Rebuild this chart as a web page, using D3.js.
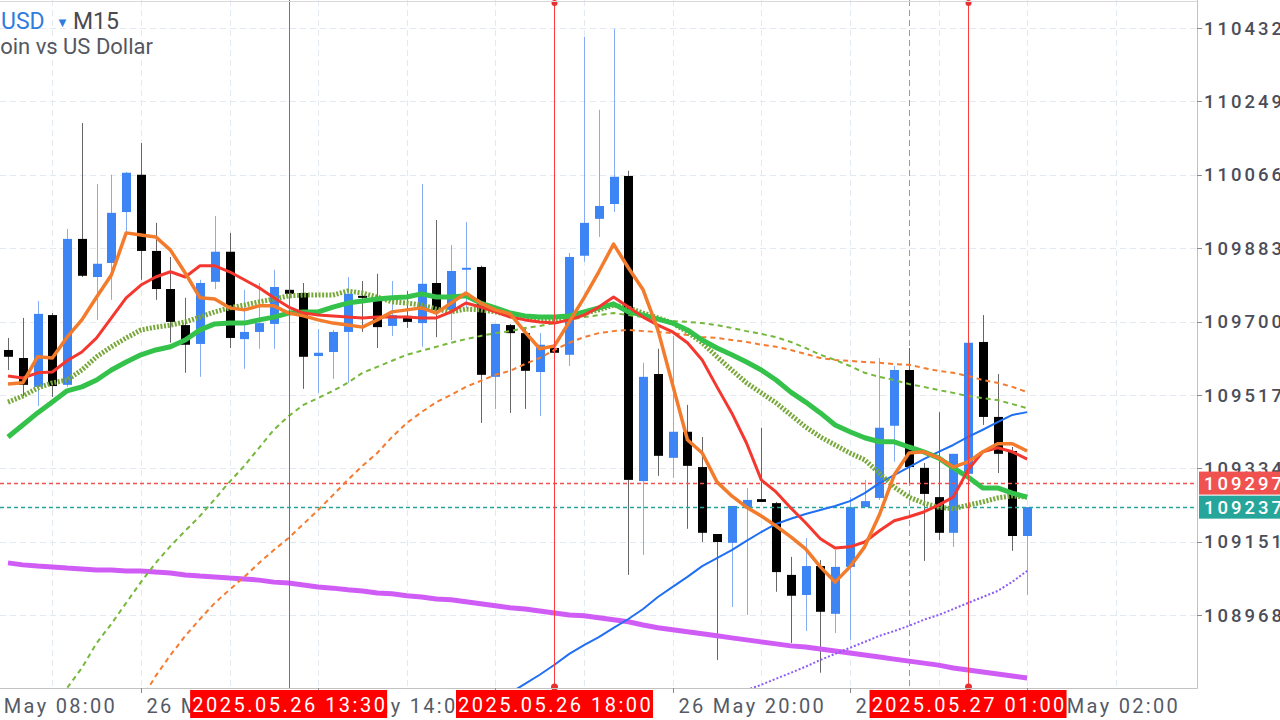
<!DOCTYPE html>
<html><head><meta charset="utf-8">
<script src="https://cdn.jsdelivr.net/npm/d3@7"></script>
<style>body{margin:0;background:#fff;overflow:hidden}svg{display:block;font-family:Roboto,"Liberation Sans",sans-serif}</style>
</head><body><svg id="c" width="1280" height="720"></svg>
<script>
// ---------- DATA ----------
const symbol = "BTCUSD", timeframe = "M15", description = "Bitcoin vs US Dollar";
const firstBar = "2025.05.26 08:45";
const barMinutes = 15;
const openP = [109629,109609,109537,109716,109542,109906,109811,109846,109973,110066,
109876,109781,109691,109644,109799,109874,109656,109674,109694,109779,
109771,109614,109624,109674,109764,109759,109689,109714,109696,109796,
109729,109831,109836,109562,109691,109671,109574,109634,109617,109864,
109956,109993,110063,109302,109569,109360,109425,109337,109170,109148,
109237,109257,109247,109068,109018,109090,108971,109088,109237,109260,
109440,109579,109335,109262,109173,109320,109649,109462,109377,109165];
const highP = [109659,109709,109751,109721,109931,110195,110043,110066,110073,110145,
109946,109861,109759,109804,109963,109921,109779,109796,109829,109809,
109796,109681,109679,109811,109801,109819,109801,109776,110043,109953,
109891,109948,109839,109694,109694,109681,109671,109711,109871,110410,
110228,110430,110076,109597,109632,109664,109492,109412,109170,109240,
109285,109435,109250,109113,109160,109105,109130,109262,109305,109609,
109589,109634,109347,109474,109370,109866,109716,109569,109387,109237];
const lowP = [109579,109514,109489,109512,109537,109811,109704,109754,109921,109804,
109754,109647,109572,109562,109781,109634,109582,109632,109632,109754,
109532,109522,109557,109547,109674,109634,109664,109684,109637,109661,
109654,109734,109447,109482,109472,109482,109464,109509,109589,109849,
109911,109973,109068,109118,109315,109310,109183,109150,108856,108988,
108968,109250,109026,108898,108928,108824,108923,108906,109237,109255,
109350,109297,109103,109155,109138,109282,109442,109322,109128,109018];
const closeP = [109612,109542,109719,109539,109906,109814,109844,109971,110071,109876,
109781,109699,109642,109796,109874,109659,109674,109696,109786,109769,
109612,109622,109674,109769,109759,109686,109716,109699,109794,109729,
109826,109834,109567,109694,109671,109577,109642,109622,109861,109946,
109988,110061,109305,109562,109365,109425,109340,109173,109150,109240,
109255,109250,109075,109016,109090,108976,109088,109237,109252,109435,
109579,109337,109270,109173,109370,109647,109462,109370,109165,109237];

const maOrange = [109544,109547,109612,109609,109661,109704,109761,109816,109921,109916,
109911,109878,109821,109759,109756,109734,109729,109739,109739,109721,
109714,109704,109696,109691,109686,109704,109724,109729,109734,109721,
109746,109771,109746,109729,109719,109674,109632,109639,109699,109759,
109824,109893,109834,109779,109679,109542,109405,109372,109300,109265,
109237,109215,109190,109163,109133,109088,109050,109088,109138,109218,
109317,109372,109375,109360,109337,109350,109375,109395,109395,109377];
const maRed = [109564,109559,109572,109574,109602,109624,109659,109709,109759,109791,
109811,109824,109811,109839,109839,109824,109804,109784,109759,109736,
109721,109716,109714,109711,109709,109711,109711,109711,109709,109709,
109724,109746,109736,109724,109711,109704,109699,109696,109704,109716,
109736,109761,109736,109711,109691,109674,109647,109604,109537,109472,
109397,109305,109275,109235,109198,109158,109135,109138,109150,109178,
109203,109213,109225,109242,109262,109330,109375,109385,109375,109357];
const maGreen = [109412,109442,109472,109499,109527,109537,109554,109579,109599,109617,
109629,109637,109654,109679,109694,109696,109696,109704,109711,109721,
109724,109724,109736,109746,109751,109756,109759,109761,109769,109761,
109761,109764,109746,109734,109721,109714,109711,109711,109714,109724,
109734,109744,109724,109716,109706,109696,109679,109654,109634,109617,
109599,109579,109554,109524,109499,109472,109442,109425,109410,109400,
109400,109387,109375,109360,109335,109312,109285,109285,109272,109262];
const maGreenDot = [109499,109514,109534,109547,109554,109579,109612,109637,109659,109679,
109686,109691,109699,109711,109724,109734,109741,109749,109756,109764,
109766,109766,109766,109776,109771,109761,109749,109746,109741,109731,
109724,109731,109729,109724,109716,109709,109704,109704,109709,109721,
109729,109741,109734,109721,109709,109696,109674,109647,109612,109579,
109547,109522,109497,109467,109437,109412,109392,109372,109355,109322,
109287,109262,109247,109237,109233,109242,109250,109260,109265,109262];
const maGreenDash = [null,null,null,108731,108786,108836,108898,108946,108998,109050,
109098,109140,109178,109215,109257,109300,109340,109385,109430,109464,
109492,109509,109527,109547,109572,109587,109602,109617,109627,109637,
109647,109656,109664,109671,109676,109684,109689,109696,109704,109711,
109716,109721,109716,109711,109706,109701,109699,109696,109691,109684,
109676,109669,109661,109649,109634,109617,109604,109589,109572,109562,
109554,109544,109537,109529,109522,109514,109509,109504,109494,109484];
const maOrangeDash = [null,null,null,null,null,null,null,null,null,108756,
108816,108868,108916,108958,108998,109031,109063,109098,109130,109160,
109195,109230,109267,109305,109340,109372,109412,109447,109474,109499,
109517,109537,109552,109567,109577,109594,109609,109629,109647,109661,
109671,109676,109679,109676,109674,109671,109666,109661,109659,109654,
109649,109642,109637,109629,109619,109609,109604,109602,109599,109597,
109594,109592,109584,109577,109572,109564,109554,109547,109537,109524];
const trendBlue = [null,null,null,null,null,null,null,null,null,null,
null,null,null,null,null,null,null,null,null,null,
null,null,null,null,null,null,null,null,null,null,
null,null,null,null,108774,108796,108819,108844,108871,108893,
108913,108936,108958,108983,109013,109038,109063,109090,109110,109130,
109153,109175,109195,109208,109220,109230,109240,109252,109272,109297,
109317,109337,109357,109375,109392,109412,109430,109449,109467,109474];
const maMagenta = [109098,109093,109090,109088,109085,109083,109080,109080,109078,109078,
109075,109073,109068,109065,109063,109060,109058,109055,109050,109048,
109043,109038,109035,109031,109028,109023,109021,109016,109013,109008,
109006,109001,108996,108991,108986,108983,108978,108973,108968,108966,
108961,108956,108951,108943,108936,108931,108926,108921,108916,108911,
108906,108901,108896,108891,108888,108883,108878,108873,108868,108863,
108858,108853,108848,108843,108836,108831,108826,108821,108816,108811];
const maPurpleDot = [null,null,null,null,null,null,null,null,null,null,
null,null,null,null,null,null,null,null,null,null,
null,null,null,null,null,null,null,null,null,null,
null,null,null,null,null,null,null,null,null,null,
null,null,null,null,null,null,null,null,null,null,
108781,108794,108809,108824,108839,108856,108871,108886,108901,108916,
108928,108941,108956,108968,108983,108998,109013,109028,109051,109078];

const yTicks = [110432,110249,110066,109883,109700,109517,109334,109151,108968];
const xTickTimes = ["2025.05.26 08:00","2025.05.26 11:00","2025.05.26 14:00","2025.05.26 17:00","2025.05.26 20:00","2025.05.26 23:00","2025.05.27 02:00"];
const gridStart = "2025.05.26 08:00", gridStepMin = 90, gridCount = 14;
const daySeparator = "2025.05.27 00:00";
const eventTimes = ["2025.05.26 13:30","2025.05.26 18:00","2025.05.27 01:00"];
const eventMarked = [false,true,true];
const askPrice = 109297, bidPrice = 109237;

// ---------- SETUP ----------
const parse = d3.timeParse("%Y.%m.%d %H:%M");
const t0 = parse(firstBar);
const times = openP.map((_, i) => d3.timeMinute.offset(t0, barMinutes * i));
const plotR = 1197, plotB = 688;
const x = d3.scaleTime().domain([times[0], times[times.length - 1]]).range([8, 8 + 14.77 * (times.length - 1)]);
const y = d3.scaleLinear().domain(d3.extent(yTicks)).range([615, 28]);

const svg = d3.select("#c");
svg.append("defs").append("clipPath").attr("id", "clip")
  .append("rect").attr("x", 0).attr("y", 0).attr("width", plotR).attr("height", plotB);
const plot = svg.append("g").attr("clip-path", "url(#clip)");

// grid
const gridTimes = d3.range(gridCount).map(k => d3.timeMinute.offset(parse(gridStart), gridStepMin * k));
plot.append("g").selectAll("line").data(yTicks).join("line")
  .attr("x1", 0).attr("x2", plotR).attr("y1", d => Math.round(y(d)) + 0.5).attr("y2", d => Math.round(y(d)) + 0.5)
  .attr("stroke", "#e2e9f0").attr("stroke-dasharray", "6,4");
plot.append("g").selectAll("line").data(gridTimes).join("line")
  .attr("y1", 0).attr("y2", plotB).attr("x1", d => Math.round(x(d)) + 0.5).attr("x2", d => Math.round(x(d)) + 0.5)
  .attr("stroke", "#e2e9f0").attr("stroke-dasharray", "6,4");
plot.append("line").attr("x1", Math.round(x(parse(daySeparator))) + 0.5).attr("x2", Math.round(x(parse(daySeparator))) + 0.5)
  .attr("y1", 0).attr("y2", plotB).attr("stroke", "#9c9c9c").attr("stroke-dasharray", "6,4");

// candles
const bars = times.map((t, i) => ({t, o: openP[i], h: highP[i], l: lowP[i], c: closeP[i]}));
const cg = plot.append("g");
cg.selectAll("line").data(bars).join("line")
  .attr("x1", d => Math.round(x(d.t)) + 0.5).attr("x2", d => Math.round(x(d.t)) + 0.5)
  .attr("y1", d => y(d.h)).attr("y2", d => y(d.l))
  .attr("stroke", d => d.c >= d.o ? "#86acf5" : "#666").attr("stroke-width", 1);
cg.selectAll("rect").data(bars).join("rect")
  .attr("x", d => Math.round(x(d.t)) - 4).attr("width", 9)
  .attr("y", d => y(Math.max(d.o, d.c)))
  .attr("height", d => Math.max(2, Math.abs(y(d.o) - y(d.c))))
  .attr("fill", d => d.c >= d.o ? "#3d84f4" : "#000");

// bid / ask lines
[[askPrice, "#f0524f"], [bidPrice, "#26a69a"]].forEach(([p, col]) => {
  plot.append("line").attr("x1", 0).attr("x2", plotR).attr("y1", Math.round(y(p)) + 0.5).attr("y2", Math.round(y(p)) + 0.5)
    .attr("stroke", col).attr("stroke-width", 1.5).attr("stroke-dasharray", "4,3");
});

// indicator lines
const lineGen = d3.line().defined(d => d != null).x((d, i) => x(times[i])).y(d => y(d));
function drawLine(vals, col, w, dash) {
  const path = plot.append("path").datum(vals).attr("d", lineGen)
    .attr("fill", "none").attr("stroke", col).attr("stroke-width", w)
    .attr("stroke-linejoin", "round");
  if (dash) path.attr("stroke-dasharray", dash);
}
drawLine(maMagenta, "#d05cf6", 5);
drawLine(maPurpleDot, "#8b5cf6", 2, "2,2");
drawLine(trendBlue, "#1f6ff2", 2);
drawLine(maOrangeDash, "#f47b2f", 2, "5,4");
drawLine(maGreenDash, "#76b83b", 2, "5,4");
drawLine(maGreenDot, "#78a83a", 5, "2,1.6");
drawLine(maGreen, "#34c24b", 5);
drawLine(maRed, "#f5382f", 3);
drawLine(maOrange, "#f27b2c", 3.5);

// event vertical lines
eventTimes.forEach((s, k) => {
  const ex = Math.round(x(parse(s))) + 0.5;
  svg.append("line").attr("x1", ex).attr("x2", ex).attr("y1", 0).attr("y2", plotB)
    .attr("stroke", "#ff3b3b").attr("stroke-width", 1);
  if (eventMarked[k]) {
    svg.append("circle").attr("cx", ex).attr("cy", 3).attr("r", 3).attr("fill", "#e83030");
    svg.append("circle").attr("cx", ex).attr("cy", plotB - 1).attr("r", 3.5).attr("fill", "#e83030");
  }
});

// borders
svg.append("line").attr("x1", plotR + 0.5).attr("x2", plotR + 0.5).attr("y1", 0).attr("y2", plotB + 0.5).attr("stroke", "#c2c2c2");
svg.append("line").attr("x1", 0).attr("x2", plotR + 0.5).attr("y1", plotB + 0.5).attr("y2", plotB + 0.5).attr("stroke", "#c2c2c2");
svg.append("line").attr("x1", 0).attr("x2", plotR + 0.5).attr("y1", 1.5).attr("y2", 1.5).attr("stroke", "#d8d8d8");

// right axis
const ax = svg.append("g");
ax.selectAll("line").data(yTicks).join("line")
  .attr("x1", plotR).attr("x2", plotR + 5).attr("y1", d => Math.round(y(d)) + 0.5).attr("y2", d => Math.round(y(d)) + 0.5)
  .attr("stroke", "#8a8a8a");
ax.selectAll("text").data(yTicks).join("text")
  .attr("x", 1204).attr("y", d => y(d)).attr("dy", "0.36em")
  .attr("font-size", 18.5).attr("font-weight", 500).attr("letter-spacing", "3px").attr("fill", "#4b4e58")
  .text(d => d);
[[askPrice, "#f0524f"], [bidPrice, "#26a69a"]].forEach(([p, col]) => {
  svg.append("rect").attr("x", 1199).attr("y", y(p) - 11.5).attr("width", 81).attr("height", 23).attr("fill", col);
  svg.append("text").attr("x", 1204).attr("y", y(p)).attr("dy", "0.36em")
    .attr("font-size", 18.5).attr("font-weight", 500).attr("letter-spacing", "3px").attr("fill", "#fff").text(p);
});

// bottom axis
const fmt = d3.timeFormat("%d %b %H:%M");
const bx = svg.append("g");
xTickTimes.forEach(s => {
  const t = parse(s), tx = Math.round(x(t)) + 0.5;
  bx.append("line").attr("x1", tx).attr("x2", tx).attr("y1", plotB).attr("y2", plotB + 5).attr("stroke", "#8a8a8a");
  bx.append("text").attr("x", tx + 5).attr("y", 713).attr("font-size", 20).attr("letter-spacing", "2.3px")
    .attr("fill", "#555a66").text(fmt(t));
});
eventTimes.forEach(s => {
  const ex = x(parse(s));
  bx.append("rect").attr("x", ex - 98.5).attr("y", 690).attr("width", 197).attr("height", 28).attr("fill", "#ff0000");
  bx.append("text").attr("x", ex + 1.2).attr("y", 712).attr("text-anchor", "middle").attr("font-size", 20)
    .attr("letter-spacing", "2.5px").attr("fill", "#fff").text(s);
});

// title
const tg = svg.append("g");
tg.append("text").attr("x", 0).attr("y", 29).attr("text-anchor", "end").attr("font-size", 23).attr("fill", "#2f7de1").text(symbol.slice(0, 3));
tg.append("text").attr("x", 1).attr("y", 29).attr("font-size", 23).attr("fill", "#2f7de1").text(symbol.slice(3));
tg.append("text").attr("x", 56).attr("y", 27).attr("font-size", 13).attr("fill", "#2f7de1").text("▼");
tg.append("text").attr("x", 73).attr("y", 29).attr("font-size", 23).attr("fill", "#4a4a4f").text(timeframe);
tg.append("text").attr("x", 153).attr("y", 54).attr("text-anchor", "end").attr("font-size", 22).attr("fill", "#55575f").text(description);
</script></body></html>
